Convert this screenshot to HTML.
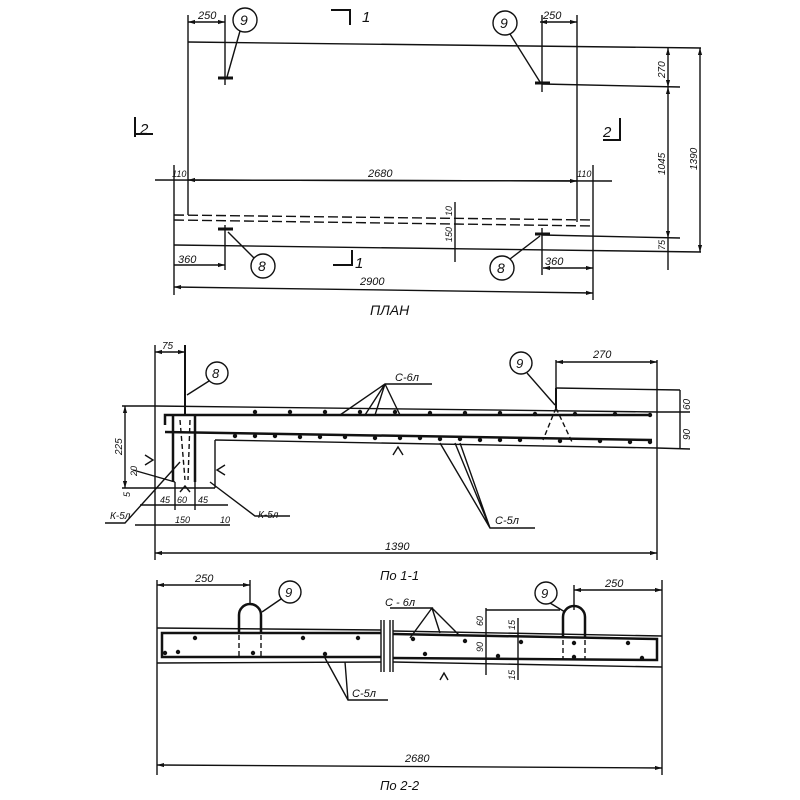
<!DOCTYPE html>
<html><head><meta charset="utf-8"><style>
html,body{margin:0;padding:0;background:#fff}
svg{display:block}
text{font-family:"Liberation Sans",sans-serif;font-style:italic;fill:#111}
</style></head><body>
<svg width="800" height="800" viewBox="0 0 800 800" xmlns="http://www.w3.org/2000/svg">
<defs>
<marker id="a" viewBox="0 0 10 10" refX="10" refY="5" markerWidth="7" markerHeight="5" orient="auto-start-reverse"><path d="M0,2 L10,5 L0,8 z" fill="#111"/></marker>
</defs>
<g stroke="#111" fill="none" stroke-width="1.4">
<!-- PLAN -->
<line x1="188" y1="42" x2="701" y2="48"/>
<line x1="188" y1="15" x2="188" y2="215"/>
<line x1="577" y1="15" x2="577" y2="222"/>
<line x1="174" y1="215" x2="593" y2="220" stroke-dasharray="10,4"/>
<line x1="174" y1="220" x2="593" y2="226" stroke-dasharray="10,4"/>
<line x1="174" y1="245" x2="701" y2="252"/>
<line x1="174" y1="165" x2="174" y2="295"/>
<line x1="593" y1="165" x2="593" y2="300"/>
<line x1="542" y1="84" x2="680" y2="87"/>
<line x1="542" y1="235" x2="680" y2="238"/>
<line x1="188" y1="22" x2="225" y2="22" marker-start="url(#a)" marker-end="url(#a)"/>
<line x1="225" y1="15" x2="225" y2="85"/>
<line x1="218" y1="78" x2="233" y2="78" stroke-width="3"/>
<line x1="540" y1="22" x2="577" y2="22" marker-start="url(#a)" marker-end="url(#a)"/>
<line x1="542" y1="15" x2="542" y2="92"/>
<line x1="535" y1="83" x2="550" y2="83" stroke-width="3"/>
<circle cx="245" cy="20" r="12"/><line x1="240" y1="31" x2="227" y2="77"/>
<circle cx="505" cy="23" r="12"/><line x1="510" y1="34" x2="540" y2="82"/>
<line x1="668" y1="48" x2="668" y2="87" marker-start="url(#a)" marker-end="url(#a)"/>
<line x1="668" y1="87" x2="668" y2="238" marker-start="url(#a)" marker-end="url(#a)"/>
<line x1="668" y1="238" x2="668" y2="270"/>
<line x1="700" y1="48" x2="700" y2="252" marker-start="url(#a)" marker-end="url(#a)"/>
<line x1="155" y1="180" x2="612" y2="181"/>
<line x1="188" y1="180" x2="577" y2="181" marker-start="url(#a)" marker-end="url(#a)"/>
<line x1="455" y1="202" x2="455" y2="262"/>
<line x1="174" y1="265" x2="225" y2="265" marker-end="url(#a)"/>
<line x1="225" y1="225" x2="225" y2="270"/>
<line x1="218" y1="229" x2="233" y2="229" stroke-width="3"/>
<circle cx="263" cy="266" r="12"/><line x1="254" y1="258" x2="228" y2="232"/>
<line x1="543" y1="268" x2="593" y2="268" marker-start="url(#a)" marker-end="url(#a)"/>
<line x1="542" y1="228" x2="542" y2="275"/>
<line x1="535" y1="234" x2="550" y2="234" stroke-width="3"/>
<circle cx="502" cy="268" r="12"/><line x1="510" y1="259" x2="540" y2="236"/>
<line x1="174" y1="287" x2="593" y2="293" marker-start="url(#a)" marker-end="url(#a)"/>
<path d="M331,10 H350 V25" stroke-width="2"/>
<path d="M333,265 H352 V250" stroke-width="2"/>
<path d="M135,137 V117 M135,134 H153" stroke-width="2"/>
<path d="M603,140 H620 V118" stroke-width="2"/>

<!-- SECTION 1-1 -->
<line x1="155" y1="406" x2="657" y2="412"/>
<line x1="155" y1="345" x2="155" y2="560"/>
<line x1="155" y1="352" x2="185" y2="352" marker-start="url(#a)" marker-end="url(#a)"/>
<line x1="215" y1="440" x2="657" y2="448"/>
<line x1="215" y1="440" x2="215" y2="488"/>
<line x1="155" y1="488" x2="215" y2="488"/>
<line x1="657" y1="360" x2="657" y2="560"/>
<path d="M165,425 V415 H652" stroke-width="2.5"/>
<line x1="165" y1="432" x2="652" y2="440" stroke-width="2.5"/>
<line x1="173" y1="415" x2="173" y2="482" stroke-width="2.5"/>
<line x1="195" y1="415" x2="195" y2="482" stroke-width="2.5"/>
<path d="M180,420 L185,480 M190,420 L188,480" stroke-dasharray="5,3"/>
<line x1="185" y1="345" x2="185" y2="415" stroke-width="2"/>
<circle cx="217" cy="373" r="11"/><line x1="209" y1="381" x2="187" y2="395"/>
<line x1="556" y1="388" x2="556" y2="408" stroke-width="2"/>
<line x1="556" y1="388" x2="680" y2="390"/>
<line x1="556" y1="360" x2="556" y2="388"/>
<line x1="556" y1="362" x2="657" y2="362" marker-start="url(#a)" marker-end="url(#a)"/>
<path d="M556,408 L543,440 M556,408 L572,442" stroke-dasharray="5,3"/>
<circle cx="521" cy="363" r="11"/><line x1="527" y1="373" x2="555" y2="405"/>
<line x1="657" y1="412" x2="690" y2="412"/><line x1="657" y1="448" x2="690" y2="449"/>
<line x1="680" y1="390" x2="680" y2="449"/>
<path d="M432,384 H385 L340,415 M385,384 L375,415 M385,384 L400,415 M385,384 L365,415"/>
<path d="M535,528 H490 L440,443 M490,528 L455,443 M490,528 L460,443"/>
<path d="M105,523 H125 L180,462"/>
<path d="M290,516 H255 L210,482"/>
<line x1="122" y1="406" x2="155" y2="406"/>
<line x1="122" y1="488" x2="155" y2="488"/>
<line x1="125" y1="406" x2="125" y2="488" marker-start="url(#a)" marker-end="url(#a)"/>
<line x1="133" y1="470" x2="175" y2="482"/>
<line x1="140" y1="505" x2="228" y2="505"/>
<line x1="175" y1="482" x2="175" y2="510"/><line x1="195" y1="482" x2="195" y2="510"/>
<line x1="135" y1="525" x2="230" y2="525"/>
<line x1="155" y1="553" x2="657" y2="553" marker-start="url(#a)" marker-end="url(#a)"/>
<path d="M145,455 L153,460 L145,465 M225,465 L217,470 L225,475 M393,455 L398,447 L403,455 M180,492 L185,486 L190,492"/>

<!-- SECTION 2-2 -->
<line x1="157" y1="628" x2="381" y2="630"/>
<line x1="157" y1="663" x2="381" y2="662"/>
<line x1="393" y1="631" x2="662" y2="636"/>
<line x1="393" y1="662" x2="662" y2="667"/>
<line x1="157" y1="580" x2="157" y2="775"/>
<line x1="662" y1="580" x2="662" y2="775"/>
<line x1="381" y1="620" x2="381" y2="672"/><line x1="384" y1="620" x2="384" y2="672"/>
<line x1="390" y1="620" x2="390" y2="672"/><line x1="393" y1="620" x2="393" y2="672"/>
<path d="M381,633 H162 V657 H381" stroke-width="2.5"/>
<path d="M393,634 L657,639 V660 L393,658" stroke-width="2.5"/>
<path d="M239,633 V615 A11,11 0 0 1 261,615 V633" stroke-width="2.5"/>
<path d="M563,638 V617 A11,11 0 0 1 585,617 V638" stroke-width="2.5"/>
<path d="M239,635 V657 M261,635 V657 M563,640 V660 M585,640 V660" stroke-dasharray="5,3"/>
<line x1="157" y1="585" x2="250" y2="585" marker-start="url(#a)" marker-end="url(#a)"/>
<line x1="250" y1="580" x2="250" y2="605"/>
<circle cx="290" cy="592" r="11"/><line x1="281" y1="599" x2="262" y2="612"/>
<line x1="574" y1="590" x2="662" y2="590" marker-start="url(#a)" marker-end="url(#a)"/>
<line x1="574" y1="585" x2="574" y2="610"/>
<circle cx="546" cy="593" r="11"/><line x1="550" y1="603" x2="565" y2="612"/>
<path d="M390,608 H432 L410,638 M432,608 L440,633 M432,608 L460,636"/>
<path d="M388,700 H348 L325,658 M348,700 L345,662"/>
<path d="M486,610 H560 M486,608 V675 M518,618 V680"/>
<path d="M440,680 L444,673 L448,680"/>
<line x1="157" y1="765" x2="662" y2="768" marker-start="url(#a)" marker-end="url(#a)"/>
</g>
<g fill="#111">
<circle cx="255" cy="412" r="2.2"/><circle cx="290" cy="412" r="2.2"/><circle cx="325" cy="412" r="2.2"/><circle cx="360" cy="412" r="2.2"/><circle cx="395" cy="412" r="2.2"/><circle cx="430" cy="413" r="2.2"/><circle cx="465" cy="413" r="2.2"/><circle cx="500" cy="413" r="2.2"/><circle cx="535" cy="414" r="2.2"/><circle cx="575" cy="414" r="2.2"/><circle cx="615" cy="414" r="2.2"/><circle cx="650" cy="415" r="2.2"/>
<circle cx="235" cy="436" r="2.2"/><circle cx="255" cy="436" r="2.2"/><circle cx="275" cy="436" r="2.2"/><circle cx="300" cy="437" r="2.2"/><circle cx="320" cy="437" r="2.2"/><circle cx="345" cy="437" r="2.2"/><circle cx="375" cy="438" r="2.2"/><circle cx="400" cy="438" r="2.2"/><circle cx="420" cy="438" r="2.2"/><circle cx="440" cy="439" r="2.2"/><circle cx="460" cy="439" r="2.2"/><circle cx="480" cy="440" r="2.2"/><circle cx="500" cy="440" r="2.2"/><circle cx="520" cy="440" r="2.2"/><circle cx="560" cy="441" r="2.2"/><circle cx="600" cy="441" r="2.2"/><circle cx="630" cy="442" r="2.2"/><circle cx="650" cy="442" r="2.2"/>
<circle cx="195" cy="638" r="2.2"/><circle cx="303" cy="638" r="2.2"/><circle cx="358" cy="638" r="2.2"/><circle cx="413" cy="639" r="2.2"/><circle cx="465" cy="641" r="2.2"/><circle cx="521" cy="642" r="2.2"/><circle cx="574" cy="643" r="2.2"/><circle cx="628" cy="643" r="2.2"/>
<circle cx="165" cy="653" r="2.2"/><circle cx="178" cy="652" r="2.2"/><circle cx="253" cy="653" r="2.2"/><circle cx="325" cy="654" r="2.2"/><circle cx="425" cy="654" r="2.2"/><circle cx="498" cy="656" r="2.2"/><circle cx="574" cy="657" r="2.2"/><circle cx="642" cy="658" r="2.2"/>
</g>
<g font-size="11">
<text x="198" y="19">250</text>
<text x="543" y="19">250</text>
<text x="240" y="25" font-size="14">9</text>
<text x="500" y="28" font-size="14">9</text>
<text x="362" y="22" font-size="15">1</text>
<text x="355" y="268" font-size="15">1</text>
<text x="140" y="134" font-size="15">2</text>
<text x="603" y="137" font-size="15">2</text>
<text x="172" y="177" font-size="9">110</text>
<text x="577" y="177" font-size="9">110</text>
<text x="368" y="177">2680</text>
<text x="178" y="263">360</text>
<text x="545" y="265">360</text>
<text x="258" y="271" font-size="14">8</text>
<text x="497" y="273" font-size="14">8</text>
<text x="360" y="285">2900</text>
<text x="370" y="315" font-size="14">ПЛАН</text>
<text transform="translate(665,78) rotate(-90)" font-size="10">270</text>
<text transform="translate(665,175) rotate(-90)" font-size="10">1045</text>
<text transform="translate(697,170) rotate(-90)" font-size="10">1390</text>
<text transform="translate(665,250) rotate(-90)" font-size="9">75</text>
<text transform="translate(452,216) rotate(-90)" font-size="9">10</text>
<text transform="translate(452,242) rotate(-90)" font-size="9">150</text>

<text x="162" y="349" font-size="10">75</text>
<text x="212" y="378" font-size="13">8</text>
<text x="516" y="368" font-size="13">9</text>
<text x="593" y="358">270</text>
<text x="395" y="381">С-6л</text>
<text x="495" y="524">С-5л</text>
<text x="110" y="519" font-size="10">К-5л</text>
<text x="258" y="518" font-size="10">К-5л</text>
<text transform="translate(122,455) rotate(-90)" font-size="10">225</text>
<text transform="translate(137,476) rotate(-90)" font-size="9">20</text>
<text transform="translate(130,497) rotate(-90)" font-size="9">5</text>
<text transform="translate(690,410) rotate(-90)" font-size="10">60</text>
<text transform="translate(690,440) rotate(-90)" font-size="10">90</text>
<text x="160" y="503" font-size="9">45</text>
<text x="177" y="503" font-size="9">60</text>
<text x="198" y="503" font-size="9">45</text>
<text x="175" y="523" font-size="9">150</text>
<text x="220" y="523" font-size="9">10</text>
<text x="385" y="550">1390</text>
<text x="380" y="580" font-size="13">По 1-1</text>

<text x="195" y="582">250</text>
<text x="605" y="587">250</text>
<text x="285" y="597" font-size="13">9</text>
<text x="541" y="598" font-size="13">9</text>
<text x="385" y="606">С - 6л</text>
<text x="352" y="697">С-5л</text>
<text transform="translate(483,626) rotate(-90)" font-size="9">60</text>
<text transform="translate(483,652) rotate(-90)" font-size="9">90</text>
<text transform="translate(515,630) rotate(-90)" font-size="9">15</text>
<text transform="translate(515,680) rotate(-90)" font-size="9">15</text>
<text x="405" y="762">2680</text>
<text x="380" y="790" font-size="13">По 2-2</text>
</g>
</svg>
</body></html>
